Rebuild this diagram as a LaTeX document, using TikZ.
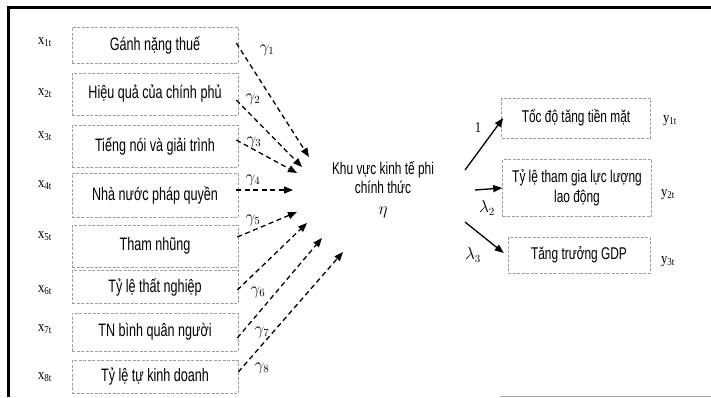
\documentclass[tikz,border=0pt]{standalone}
\usepackage{fontspec}
\setmainfont{Liberation Sans}[FakeStretch=0.7]
\newfontfamily\serifx{Liberation Serif}[FakeStretch=0.85]
\usetikzlibrary{arrows.meta,calc}
\begin{document}
\begin{tikzpicture}[x=1pt,y=-1pt,
  lbox/.style={draw=gray!75, dash pattern=on 3pt off 1.5pt, line width=0.6pt,
    minimum width=166pt, minimum height=36pt, inner sep=0pt, align=center,
    font=\fontsize{18}{20}\selectfont},
  rbox/.style={draw=gray!75, dash pattern=on 3pt off 1.5pt, line width=0.6pt,
    minimum width=149pt, minimum height=40pt, inner sep=0pt, align=center,
    font=\fontsize{17}{20}\selectfont},
  xlab/.style={font=\serifx\fontsize{15}{17}\selectfont, inner sep=0pt},
  glab/.style={font=\fontsize{16}{18}\selectfont, inner sep=0pt},
  darr/.style={line width=1.3pt, dash pattern=on 5pt off 3.5pt,
    -{Triangle[length=9pt,width=7pt]}},
  sarr/.style={line width=1.3pt, -{Triangle[length=9pt,width=7pt]}}
]
\useasboundingbox (0,0) rectangle (711,397);
% frame
\draw[line width=3pt] (8,397) -- (8,7) -- (711,7);
\draw[line width=1pt, gray!70] (500,396) -- (711,396);

% left boxes
\node[lbox] (b1) at (155,45) {Gánh nặng thuế};
\node[lbox, minimum height=42pt] (b2) at (155,94) {Hiệu quả của chính phủ};
\node[lbox, minimum height=42pt] (b3) at (155,146) {Tiếng nói và giải trình};
\node[lbox, minimum height=44pt] (b4) at (155,195) {Nhà nước pháp quyền};
\node[lbox, minimum height=42pt] (b5) at (155,246) {Tham nhũng};
\node[lbox, minimum height=33pt] (b6) at (155,287) {Tỷ lệ thất nghiệp};
\node[lbox, minimum height=38pt] (b7) at (155,332) {TN bình quân người};
\node[lbox, minimum height=33pt] (b8) at (155,377) {Tỷ lệ tự kinh doanh};

% x labels
\node[xlab] (x1) at (45,42) {x\textsubscript{1t}};
\node[xlab] (x2) at (45,93) {x\textsubscript{2t}};
\node[xlab] (x3) at (45,136) {x\textsubscript{3t}};
\node[xlab] (x4) at (45,185) {x\textsubscript{4t}};
\node[xlab] (x5) at (45,236) {x\textsubscript{5t}};
\node[xlab] (x6) at (45,290) {x\textsubscript{6t}};
\node[xlab] (x7) at (45,329) {x\textsubscript{7t}};
\node[xlab] (x8) at (45,377) {x\textsubscript{8t}};

% centre
\node[align=center, font=\fontsize{17}{19}\selectfont, inner sep=1pt] (eta) at (383,190)
  {Khu vực kinh tế phi\\chính thức\\[2pt]$\eta$};

% arrow end points
\coordinate (e1) at (309,157);
\coordinate (e2) at (302,167);
\coordinate (e3) at (297,173);
\coordinate (e4) at (293,190);
\coordinate (e5) at (297,212);
\coordinate (e6) at (307,223);
\coordinate (e7) at (322,238);
\coordinate (e8) at (343,252);

\draw[darr] ($(b1.east)+(-2,-2)$) -- (e1);
\draw[darr] ($(b2.east)+(-2,6)$) -- (e2);
\draw[darr] ($(b3.east)+(-2,-6)$) -- (e3);
\draw[darr] ($(b4.east)+(-2,-5)$) -- (e4);
\draw[darr] ($(b5.east)+(-1,-9)$) -- (e5);
\draw[darr] ($(b6.east)+(-1,3)$) -- (e6);
\draw[darr] ($(b7.east)+(-1,6)$) -- (e7);
\draw[darr] ($(b8.east)+(0,-5)$) -- (e8);

\node[glab] (g1) at (267,50) {$\gamma_{1}$};
\node[glab] (g2) at (253,99) {$\gamma_{2}$};
\node[glab] (g3) at (254,142) {$\gamma_{3}$};
\node[glab] (g4) at (253,180) {$\gamma_{4}$};
\node[glab] (g5) at (253,220) {$\gamma_{5}$};
\node[glab] (g6) at (258,292) {$\gamma_{6}$};
\node[glab] (g7) at (262,332) {$\gamma_{7}$};
\node[glab] (g8) at (262,368) {$\gamma_{8}$};

% right boxes
\node[rbox] (r1) at (576,118) {Tốc độ tăng tiền mặt};
\node[rbox, minimum height=57pt] (r2) at (577,188) {Tỷ lệ tham gia lực lượng\\lao động};
\node[rbox, minimum width=142pt, minimum height=36pt] (r3) at (579,255) {Tăng trưởng GDP};

\node[xlab] (y1) at (670,121) {y\textsubscript{1t}};
\node[xlab] (y2) at (668,195) {y\textsubscript{2t}};
\node[xlab] (y3) at (668,262) {y\textsubscript{3t}};

\coordinate (s1) at (465,170);
\coordinate (s2) at (475,190);
\coordinate (s3) at (465,222);
\draw[sarr] (s1) -- ($(r1.west)+(2,0)$);
\draw[sarr] (s2) -- (r2.west);
\draw[sarr] (s3) -- ($(r3.west)+(-4,-2)$);

\node[glab, font=\serifx\fontsize{15}{17}\selectfont] (l1) at (478,128) {1};
\node[glab] (l2) at (487,208) {$\lambda_{2}$};
\node[glab] (l3) at (473,255) {$\lambda_{3}$};
\end{tikzpicture}
\end{document}
